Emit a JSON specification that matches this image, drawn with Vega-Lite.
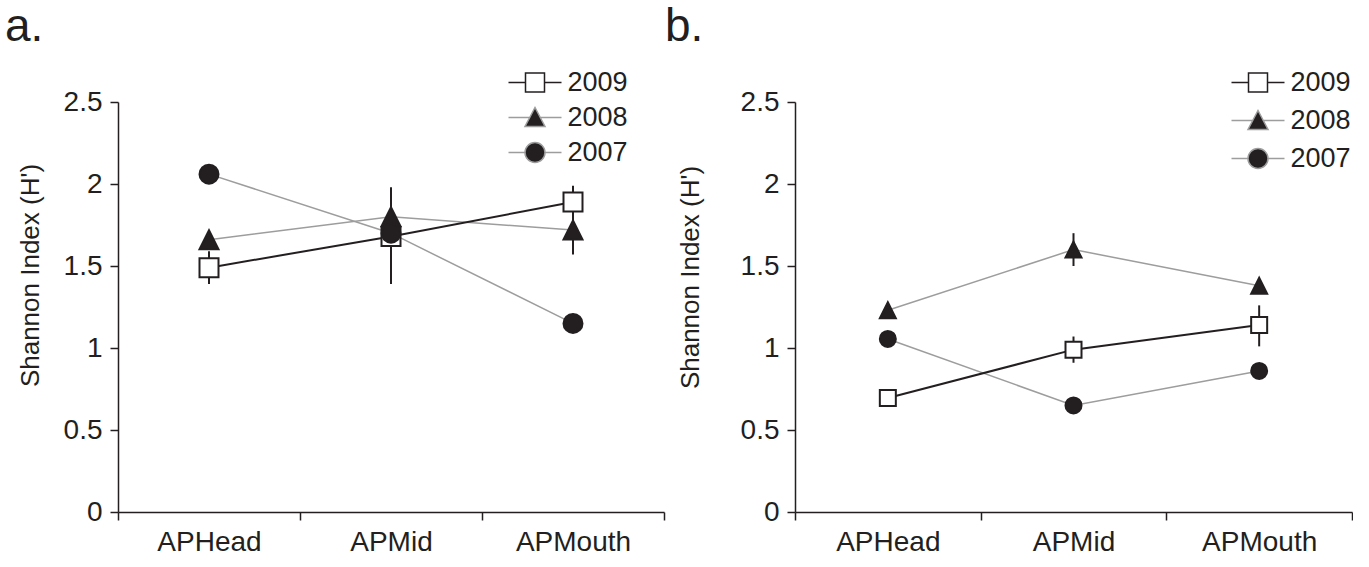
{
  "$schema": "https://vega.github.io/schema/vega-lite/v6.json",
  "background": "white",
  "padding": {"left": 5, "top": 4, "right": 0, "bottom": 0},
  "config": {
    "font": "Liberation Sans",
    "view": {"stroke": null},
    "concat": {"spacing": 0},
    "axis": {
      "domainColor": "#231f20", "tickColor": "#231f20", "labelColor": "#231f20", "titleColor": "#231f20",
      "grid": false, "domainWidth": 1.5, "tickWidth": 1.5, "tickSize": 8,
      "labelFontSize": 28, "titleFontSize": 26, "titleFontWeight": "normal",
      "labelFont": "Liberation Sans", "titleFont": "Liberation Sans", "labelPadding": 8
    }
  },
  "resolve": {"scale": {"shape": "independent"}, "legend": {"shape": "independent"}},
  "datasets": {
    "a": [
      {"site": "APHead", "year": "2009", "value": 1.49, "lo": 1.39, "hi": 1.59},
      {"site": "APMid", "year": "2009", "value": 1.68, "lo": 1.39, "hi": 1.98},
      {"site": "APMouth", "year": "2009", "value": 1.89, "lo": 1.80, "hi": 1.99},
      {"site": "APHead", "year": "2008", "value": 1.66},
      {"site": "APMid", "year": "2008", "value": 1.80},
      {"site": "APMouth", "year": "2008", "value": 1.72, "lo": 1.57, "hi": 1.87},
      {"site": "APHead", "year": "2007", "value": 2.06},
      {"site": "APMid", "year": "2007", "value": 1.70},
      {"site": "APMouth", "year": "2007", "value": 1.15}
    ],
    "b": [
      {"site": "APHead", "year": "2009", "value": 0.695},
      {"site": "APMid", "year": "2009", "value": 0.99, "lo": 0.91, "hi": 1.07},
      {"site": "APMouth", "year": "2009", "value": 1.14, "lo": 1.01, "hi": 1.26},
      {"site": "APHead", "year": "2008", "value": 1.23},
      {"site": "APMid", "year": "2008", "value": 1.60, "lo": 1.50, "hi": 1.70},
      {"site": "APMouth", "year": "2008", "value": 1.38},
      {"site": "APHead", "year": "2007", "value": 1.055},
      {"site": "APMid", "year": "2007", "value": 0.65},
      {"site": "APMouth", "year": "2007", "value": 0.86}
    ]
  },
  "hconcat": [
    {
      "width": 546, "height": 410,
      "data": {"name": "a"},
      "title": {"text": "a.", "anchor": "start", "frame": "group", "dx": -113, "fontSize": 46, "fontWeight": "normal", "font": "Liberation Sans", "color": "#231f20", "baseline": "bottom", "offset": -28},
      "resolve": {"scale": {"shape": "independent"}, "legend": {"shape": "independent"}},
      "encoding": {
        "x": {"field": "site", "type": "nominal", "sort": ["APHead", "APMid", "APMouth"],
              "scale": {"paddingInner": 0, "paddingOuter": 0},
              "axis": {"title": null, "labelAngle": 0, "tickBand": "extent"}},
        "y": {"field": "value", "type": "quantitative",
              "scale": {"domain": [0, 2.5], "nice": false},
              "axis": {"title": "Shannon Index (H')", "format": "~g", "values": [0, 0.5, 1, 1.5, 2, 2.5], "titleAngle": 270, "titleAlign": "center", "titleBaseline": "middle", "titleX": -88, "titleY": 173}}
      },
      "layer": [
        {"mark": {"type": "point", "filled": true, "size": 1, "opacity": 0},
         "encoding": {
           "shape": {"field": "year", "type": "nominal",
             "scale": {"domain": ["2009", "2008", "2007"], "range": [
               "M-2.65,0H-0.95M0.95,0H2.65M-0.95,-0.95H0.95V0.95H-0.95Z",
               "M-2.65,0H-0.53M0.53,0H2.65M0,-1L1,0.9L-1,0.9Z",
               "M-2.65,0H-1M1,0H2.65M-1,0A1,1 0 1,0 1,0A1,1 0 1,0 -1,0Z"]},
             "legend": {
               "orient": "none", "legendX": 387, "legendY": -33, "title": null,
               "symbolSize": 400, "symbolOffset": 16.5, "labelOffset": 19,
               "labelFontSize": 27, "labelFont": "Liberation Sans", "labelColor": "#231f20",
               "rowPadding": 7, "padding": 0,
               "encoding": {"symbols": {
                 "fill": {"condition": {"test": "datum.value == '2009'", "value": "white"}, "value": "#231f20"},
                 "stroke": {"condition": {"test": "datum.value == '2009'", "value": "#231f20"}, "value": "#9d9d9d"},
                 "strokeWidth": {"value": 1.5},
                 "size": {"value": 400},
                 "opacity": {"value": 1}
               }}
             }}
         }},
        {"transform": [{"filter": "datum.year != '2009'"}],
         "mark": {"type": "line", "color": "#9d9d9d", "strokeWidth": 1.5},
         "encoding": {"detail": {"field": "year", "type": "nominal"}}},
        {"transform": [{"filter": "datum.year == '2009'"}],
         "mark": {"type": "line", "color": "#231f20", "strokeWidth": 2},
         "encoding": {}},
        {"transform": [{"filter": "isValid(datum.lo)"}],
         "mark": {"type": "rule", "strokeWidth": 2, "color": "#231f20"},
         "encoding": {"y": {"field": "lo", "type": "quantitative"}, "y2": {"field": "hi"}}},
        {"mark": {"type": "point", "filled": true, "size": 361, "strokeWidth": 2, "stroke": "#231f20", "opacity": 1},
         "encoding": {
           "fill": {"condition": {"test": "datum.year == '2009'", "value": "white"}, "value": "#231f20"},
           "shape": {"field": "year", "type": "nominal", "scale": {"domain": ["2009", "2008", "2007"], "range": ["square", "M0,-1L1,1L-1,1Z", "circle"]}, "legend": null}
         }}
      ]
    },
    {
      "width": 557, "height": 410,
      "data": {"name": "b"},
      "title": {"text": "b.", "anchor": "start", "frame": "group", "dx": -130, "fontSize": 46, "fontWeight": "normal", "font": "Liberation Sans", "color": "#231f20", "baseline": "bottom", "offset": -28},
      "resolve": {"scale": {"shape": "independent"}, "legend": {"shape": "independent"}},
      "encoding": {
        "x": {"field": "site", "type": "nominal", "sort": ["APHead", "APMid", "APMouth"],
              "scale": {"paddingInner": 0, "paddingOuter": 0},
              "axis": {"title": null, "labelAngle": 0, "tickBand": "extent"}},
        "y": {"field": "value", "type": "quantitative",
              "scale": {"domain": [0, 2.5], "nice": false},
              "axis": {"title": "Shannon Index (H')", "format": "~g", "values": [0, 0.5, 1, 1.5, 2, 2.5], "titleAngle": 270, "titleAlign": "center", "titleBaseline": "middle", "titleX": -105, "titleY": 175}}
      },
      "layer": [
        {"mark": {"type": "point", "filled": true, "size": 1, "opacity": 0},
         "encoding": {
           "shape": {"field": "year", "type": "nominal",
             "scale": {"domain": ["2009", "2008", "2007"], "range": [
               "M-2.65,0H-0.95M0.95,0H2.65M-0.95,-0.95H0.95V0.95H-0.95Z",
               "M-2.65,0H-0.53M0.53,0H2.65M0,-1L1,0.9L-1,0.9Z",
               "M-2.65,0H-1M1,0H2.65M-1,0A1,1 0 1,0 1,0A1,1 0 1,0 -1,0Z"]},
             "legend": {
               "orient": "none", "legendX": 433, "legendY": -33, "title": null,
               "symbolSize": 400, "symbolOffset": 16.5, "labelOffset": 19,
               "labelFontSize": 27, "labelFont": "Liberation Sans", "labelColor": "#231f20",
               "rowPadding": 10, "padding": 0,
               "encoding": {"symbols": {
                 "fill": {"condition": {"test": "datum.value == '2009'", "value": "white"}, "value": "#231f20"},
                 "stroke": {"condition": {"test": "datum.value == '2009'", "value": "#231f20"}, "value": "#9d9d9d"},
                 "strokeWidth": {"value": 1.5},
                 "size": {"value": 400},
                 "opacity": {"value": 1}
               }}
             }}
         }},
        {"transform": [{"filter": "datum.year != '2009'"}],
         "mark": {"type": "line", "color": "#9d9d9d", "strokeWidth": 1.5},
         "encoding": {"detail": {"field": "year", "type": "nominal"}}},
        {"transform": [{"filter": "datum.year == '2009'"}],
         "mark": {"type": "line", "color": "#231f20", "strokeWidth": 2},
         "encoding": {}},
        {"transform": [{"filter": "isValid(datum.lo)"}],
         "mark": {"type": "rule", "strokeWidth": 2, "color": "#231f20"},
         "encoding": {"y": {"field": "lo", "type": "quantitative"}, "y2": {"field": "hi"}}},
        {"mark": {"type": "point", "filled": true, "size": 256, "strokeWidth": 2, "stroke": "#231f20", "opacity": 1},
         "encoding": {
           "fill": {"condition": {"test": "datum.year == '2009'", "value": "white"}, "value": "#231f20"},
           "shape": {"field": "year", "type": "nominal", "scale": {"domain": ["2009", "2008", "2007"], "range": ["square", "M0,-1L1,1L-1,1Z", "circle"]}, "legend": null}
         }}
      ]
    }
  ]
}
